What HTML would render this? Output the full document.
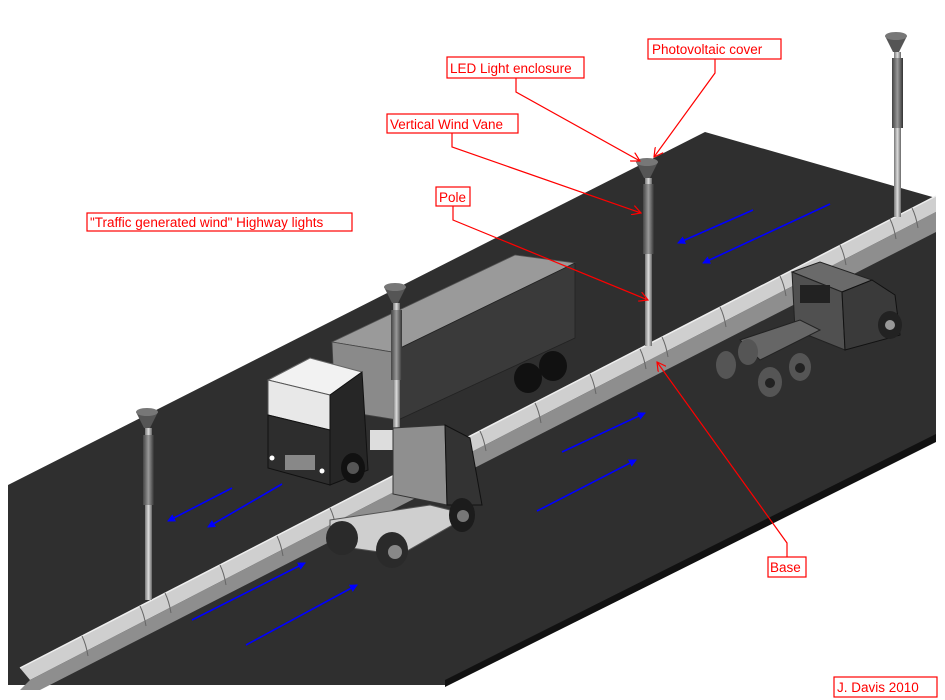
<!DOCTYPE html>
<html><head><meta charset="utf-8"><style>
html,body{margin:0;padding:0;background:#fff;}
svg{display:block;}
text{font-family:"Liberation Sans",Arial,sans-serif;fill:#f00;}
</style></head><body>
<svg width="945" height="700" viewBox="0 0 945 700" xmlns="http://www.w3.org/2000/svg">
<defs>
<linearGradient id="pole" x1="0" x2="1"><stop offset="0" stop-color="#777"/><stop offset="0.5" stop-color="#ddd"/><stop offset="1" stop-color="#666"/></linearGradient>
<linearGradient id="encl" x1="0" x2="1"><stop offset="0" stop-color="#444"/><stop offset="0.5" stop-color="#999"/><stop offset="1" stop-color="#333"/></linearGradient>
<marker id="ra" markerWidth="10" markerHeight="10" refX="9" refY="5" orient="auto" markerUnits="userSpaceOnUse"><path d="M0,0 L9,5 L0,10" fill="none" stroke="#f00" stroke-width="1.2"/></marker>
<marker id="ba" markerWidth="8" markerHeight="8" refX="7" refY="4" orient="auto" markerUnits="userSpaceOnUse"><path d="M0,0 L8,4 L0,8 z" fill="#00f"/></marker>
</defs>
<!-- road -->
<polygon points="8,485 705,132 936,198 936,440 445,685 8,685" fill="#2f2f2f"/>
<polygon points="936,434 936,442 445,687 445,680" fill="#111"/>
<!-- barrier -->
<polygon points="20,668 936,196 936,212 30,680" fill="#cfcfcf"/>
<polygon points="30,680 936,212 936,232 40,690 20,690" fill="#8e8e8e"/>
<line x1="20" y1="668" x2="936" y2="196" stroke="#eee" stroke-width="1.5"/>
<g stroke="#666" stroke-width="1" fill="none">
<path d="M82,636 q4,8 6,20"/><path d="M140,606 q4,8 6,20"/><path d="M165,593 q4,8 6,20"/><path d="M220,565 q4,8 6,20"/><path d="M277,536 q4,8 6,20"/><path d="M330,508 q4,8 6,20"/><path d="M480,431 q4,8 6,20"/><path d="M535,403 q4,8 6,20"/><path d="M590,374 q4,8 6,20"/><path d="M640,349 q4,8 6,20"/><path d="M662,337 q4,8 6,20"/><path d="M720,307 q4,8 6,20"/><path d="M780,276 q4,8 6,20"/><path d="M840,245 q4,8 6,20"/><path d="M890,219 q4,8 6,20"/><path d="M912,208 q4,8 6,20"/>
</g>
<!-- far truck trailer -->
<polygon points="332,342 515,255 575,263 392,352" fill="#9a9a9a" stroke="#555" stroke-width="0.8"/>
<polygon points="392,352 575,263 575,338 398,420" fill="#3a3a3a" stroke="#222" stroke-width="0.8"/>
<polygon points="332,342 392,352 398,420 335,410" fill="#8a8a8a" stroke="#444" stroke-width="0.8"/>
<ellipse cx="528" cy="378" rx="14" ry="15" fill="#111"/><ellipse cx="553" cy="366" rx="14" ry="15" fill="#111"/>
<rect x="370" y="430" width="30" height="20" fill="#ddd"/>
<!-- white cab -->
<polygon points="268,380 310,358 362,372 330,395" fill="#f2f2f2" stroke="#666"/>
<polygon points="268,380 330,395 330,430 268,415" fill="#e8e8e8" stroke="#555"/>
<polygon points="268,415 330,430 330,485 268,468" fill="#2d2d2d" stroke="#111"/>
<polygon points="330,395 362,372 368,470 330,485" fill="#262626" stroke="#111"/>
<rect x="285" y="455" width="30" height="15" fill="#888"/>
<circle cx="272" cy="458" r="2.5" fill="#fff"/><circle cx="322" cy="471" r="2.5" fill="#fff"/>
<ellipse cx="353" cy="468" rx="12" ry="15" fill="#111"/><circle cx="353" cy="468" r="6" fill="#555"/>
<!-- poles -->
<g>
<rect x="145" y="428" width="7" height="172" fill="url(#pole)"/><rect x="143" y="435" width="11" height="70" fill="url(#encl)"/>
<path d="M136,412 L158,412 L150,428 L144,428 z" fill="#555"/><ellipse cx="147" cy="412" rx="11" ry="4" fill="#777"/>
<rect x="393" y="303" width="7" height="168" fill="url(#pole)"/><rect x="391" y="310" width="11" height="70" fill="url(#encl)"/>
<path d="M384,287 L406,287 L398,303 L392,303 z" fill="#555"/><ellipse cx="395" cy="287" rx="11" ry="4" fill="#777"/>
<rect x="645" y="178" width="7" height="168" fill="url(#pole)"/><rect x="643" y="184" width="11" height="70" fill="url(#encl)"/>
<path d="M636,162 L658,162 L650,178 L644,178 z" fill="#555"/><ellipse cx="647" cy="162" rx="11" ry="4" fill="#777"/>
<rect x="894" y="52" width="7" height="165" fill="url(#pole)"/><rect x="892" y="58" width="11" height="70" fill="url(#encl)"/>
<path d="M885,36 L907,36 L899,52 L893,52 z" fill="#555"/><ellipse cx="896" cy="36" rx="11" ry="4" fill="#777"/>
</g>
<!-- tractor -->
<polygon points="393,428 445,425 447,505 393,494" fill="#8f8f8f" stroke="#333"/>
<polygon points="445,425 470,438 482,505 447,505" fill="#333" stroke="#111"/>
<polygon points="330,520 430,505 470,515 400,555 330,545" fill="#cfcfcf" stroke="#555"/>
<ellipse cx="342" cy="538" rx="16" ry="17" fill="#2a2a2a"/>
<ellipse cx="392" cy="550" rx="16" ry="18" fill="#2a2a2a"/><circle cx="395" cy="552" r="7" fill="#888"/>
<ellipse cx="462" cy="515" rx="13" ry="17" fill="#1c1c1c"/><circle cx="463" cy="516" r="6" fill="#777"/>
<!-- right truck -->
<polygon points="792,272 820,262 872,280 842,292" fill="#6a6a6a" stroke="#222"/>
<polygon points="792,272 842,292 845,350 795,330" fill="#505050" stroke="#222"/>
<polygon points="842,292 872,280 895,295 900,335 845,350" fill="#3a3a3a" stroke="#111"/>
<rect x="800" y="285" width="30" height="18" fill="#222"/>
<polygon points="740,340 800,320 820,330 760,360" fill="#666" stroke="#222"/>
<ellipse cx="890" cy="325" rx="12" ry="14" fill="#222"/><circle cx="890" cy="325" r="5" fill="#999"/>
<ellipse cx="726" cy="365" rx="10" ry="14" fill="#555"/><ellipse cx="770" cy="382" rx="12" ry="15" fill="#555"/>
<ellipse cx="800" cy="367" rx="11" ry="14" fill="#555"/><ellipse cx="748" cy="352" rx="10" ry="13" fill="#555"/>
<circle cx="770" cy="383" r="5" fill="#222"/><circle cx="800" cy="368" r="5" fill="#222"/>
<!-- blue arrows -->
<g stroke="#00f" stroke-width="1.6" marker-end="url(#ba)">
<line x1="232" y1="488" x2="168" y2="521"/><line x1="282" y1="484" x2="208" y2="527"/>
<line x1="192" y1="620" x2="305" y2="563"/><line x1="246" y1="645" x2="357" y2="585"/>
<line x1="753" y1="210" x2="678" y2="243"/><line x1="830" y1="204" x2="703" y2="263"/>
<line x1="562" y1="452" x2="645" y2="413"/><line x1="537" y1="511" x2="636" y2="460"/>
</g>
<!-- red leaders -->
<g stroke="#f00" stroke-width="1.2" fill="none" marker-end="url(#ra)">
<polyline points="715,59 715,73 654,157"/>
<polyline points="516,78 516,92 640,161"/>
<polyline points="452,133 452,147 641,213"/>
<polyline points="453,206 453,220 648,300"/>
<polyline points="787,557 787,543 657,362"/>
</g>
<!-- labels -->
<g fill="#fff" stroke="#f00" stroke-width="1.2">
<rect x="648" y="39" width="133" height="20"/>
<rect x="447" y="57" width="137" height="21"/>
<rect x="387" y="114" width="131" height="19"/>
<rect x="436" y="187" width="34" height="19"/>
<rect x="87" y="213" width="265" height="18"/>
<rect x="768" y="557" width="38" height="20"/>
<rect x="834" y="677" width="103" height="20"/>
</g>
<g font-size="13.5">
<text x="652" y="54">Photovoltaic cover</text>
<text x="450" y="73">LED Light enclosure</text>
<text x="390" y="129">Vertical Wind Vane</text>
<text x="439" y="202">Pole</text>
<text x="90" y="227">"Traffic generated wind" Highway lights</text>
<text x="770" y="572">Base</text>
<text x="837" y="692">J. Davis 2010</text>
</g>
</svg>
</body></html>
